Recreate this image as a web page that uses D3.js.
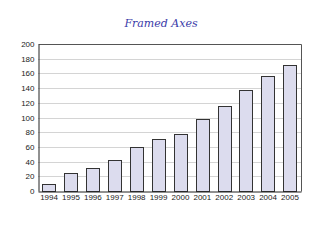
<!DOCTYPE html>
<html>
<head>
<meta charset="utf-8">
<script src="https://cdn.jsdelivr.net/npm/d3@7"></script>
<style>
  body { margin: 0; background: #fff; }
  svg { display: block; }
</style>
</head>
<body>
<svg id="drawing_region"></svg>
<script>
const years = ["1994","1995","1996","1997","1998","1999","2000","2001","2002","2003","2004","2005"];
const values = [9, 25, 31, 42, 60, 71, 77, 98, 116, 138, 157, 172];
const yTicks = [0, 20, 40, 60, 80, 100, 120, 140, 160, 180, 200];

const width = 322, height = 241;
const margin = {top: 44, right: 21, bottom: 50, left: 38};
const inner_width = width - margin.left - margin.right;
const inner_height = height - margin.top - margin.bottom;

const svg = d3.select('#drawing_region')
    .attr('width', width)
    .attr('height', height);

svg.append('text')
    .attr('x', width / 2)
    .attr('y', 27)
    .attr('text-anchor', 'middle')
    .style('font-family', '"DejaVu Serif", serif')
    .style('font-style', 'italic')
    .style('font-size', '11px')
    .style('fill', '#3a3aa8')
    .text('Framed Axes');

const chart = svg.append('g')
    .attr('transform', `translate(${margin.left}, ${margin.top})`);

const xscale = d3.scaleBand()
    .domain(years)
    .range([0, inner_width])
    .paddingInner(0.39)
    .paddingOuter(0.2);

const yscale = d3.scaleLinear()
    .domain([0, 200])
    .range([inner_height, 0]);

// grid lines
chart.append('g')
    .selectAll('line')
    .data(yTicks.filter(d => d > 0 && d < 200))
    .join('line')
    .attr('x1', 0)
    .attr('x2', inner_width)
    .attr('y1', d => Math.round(yscale(d)) + 0.5)
    .attr('y2', d => Math.round(yscale(d)) + 0.5)
    .attr('stroke', '#d4d4d4')
    .attr('stroke-width', 1);

// bars
chart.append('g')
    .selectAll('rect')
    .data(values)
    .join('rect')
    .attr('x', (d, i) => Math.round(xscale(years[i])) + 0.5)
    .attr('y', d => Math.round(yscale(d)) + 0.5)
    .attr('width', Math.round(xscale.bandwidth()))
    .attr('height', d => inner_height - Math.round(yscale(d)))
    .attr('fill', '#dcdcee')
    .attr('stroke', '#333')
    .attr('stroke-width', 1);

// frame top and right
chart.append('path')
    .attr('d', `M0.5,0.5H${inner_width + 0.5}V${inner_height + 0.5}`)
    .attr('fill', 'none')
    .attr('stroke', '#555')
    .attr('stroke-width', 1);

// y axis
const yaxis = d3.axisLeft(yscale)
    .tickValues(yTicks)
    .tickSize(0)
    .tickPadding(4);

const yaxis_group = chart.append('g')
    .attr('transform', 'translate(0.5, 0)')
    .call(yaxis);

// x axis
const xaxis = d3.axisBottom(xscale)
    .tickSize(0)
    .tickPadding(3);

const xaxis_group = chart.append('g')
    .attr('transform', `translate(0, ${inner_height + 0.5})`)
    .call(xaxis);

[yaxis_group, xaxis_group].forEach(g => {
    g.select('.domain').attr('stroke', '#222');
    g.selectAll('text')
        .style('font-family', '"Liberation Sans", Arial, sans-serif')
        .style('font-size', '8px')
        .style('fill', '#222');
});
</script>
</body>
</html>
